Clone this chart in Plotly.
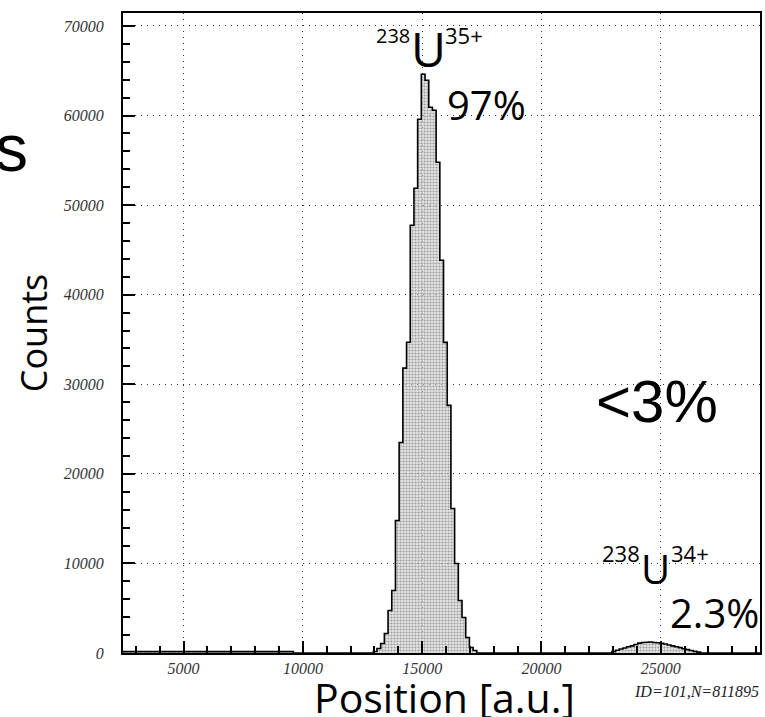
import plotly.graph_objects as go

# ---------------- data ----------------
bin_width = 155
# low-level tail on the left
tail_edges = [2460, 9600]
tail_counts = [150, 0]
# main peak 238U35+
main_start = 12950
main_counts = [170, 500, 1060, 2180, 4750, 6980, 14800, 23500, 31800, 34700,
               47750, 51880, 59590, 64620, 63950, 60930, 60600, 54790, 43840,
               34680, 27650, 16140, 10000, 5860, 3970, 1730, 610, 280]
# second peak 238U34+
sec_start = 22950
sec_counts = [150, 300, 450, 550, 700, 800, 950, 1100, 1180, 1200, 1220, 1180,
              1150, 1080, 1000, 900, 800, 700, 600, 480, 380, 280, 180, 100]

x_range = [2460, 29160]
y_range = [0, 71450]
x_ticks = [5000, 10000, 15000, 20000, 25000]
x_labels = ["5000", "10000", "15000", "20000", "25000"]
y_ticks = [0, 10000, 20000, 30000, 40000, 50000, 60000, 70000]
y_labels = ["0", "10000", "20000", "30000", "40000", "50000", "60000", "70000"]

# ---------------- build step histogram ----------------
xs, ys = [], []
for e, c in zip(tail_edges, tail_counts):
    xs.append(e); ys.append(c)
for k, c in enumerate(main_counts):
    xs.append(main_start + k * bin_width); ys.append(c)
xs.append(main_start + len(main_counts) * bin_width); ys.append(0)
for k, c in enumerate(sec_counts):
    xs.append(sec_start + k * bin_width); ys.append(c)
xs.append(sec_start + len(sec_counts) * bin_width); ys.append(0)
xs.append(x_range[1]); ys.append(0)

W, H = 765, 717
L, R, T, B = 123, 3, 13, 64
PW, PH = W - L - R, H - T - B


def px(x):
    return (x - L) / PW


def py(y):
    return (H - B - y) / PH


fig = go.Figure()
fig.add_trace(go.Scatter(
    x=xs, y=ys, mode="lines", line=dict(shape="hv", color="black", width=1.6),
    fill="tozeroy", fillcolor="rgba(190,190,190,0.75)",
    fillpattern=dict(shape=".", fgcolor="#555555", bgcolor="rgba(210,210,210,0.6)",
                     size=3, solidity=0.4),
    hoverinfo="skip", showlegend=False))

tickfont = dict(family="Liberation Serif", size=16, color="#333", style="italic")
grid_dash = "1px,5px"

fig.update_xaxes(range=x_range, tickvals=x_ticks, ticktext=x_labels, ticks="inside",
                 ticklen=12, tickwidth=1.5, tickcolor="black", showline=True,
                 linecolor="black", linewidth=2, mirror=True, showgrid=True,
                 gridcolor="#333", griddash=grid_dash, gridwidth=1.3, zeroline=False,
                 tickfont=tickfont, ticklabelstandoff=0,
                 minor=dict(dtick=1000, tick0=0, ticks="inside", ticklen=7,
                            tickcolor="black", tickwidth=1.5, showgrid=False))
fig.update_yaxes(range=y_range, tickvals=y_ticks, ticktext=y_labels, ticks="inside",
                 ticklen=12, tickwidth=1.5, tickcolor="black", showline=True,
                 linecolor="black", linewidth=2, mirror=True, showgrid=True,
                 gridcolor="#333", griddash=grid_dash, gridwidth=1.3, zeroline=False,
                 tickfont=tickfont, ticklabelstandoff=14,
                 minor=dict(dtick=2000, tick0=0, ticks="inside", ticklen=7,
                            tickcolor="black", tickwidth=1.5, showgrid=False))

big = "Open Sans"
ann = []


def add(text, x, y, size, family=big, xanchor="center", yanchor="middle", angle=0,
        style="normal", color="black"):
    ann.append(dict(text=text, x=px(x), y=py(y), xref="paper", yref="paper",
                    showarrow=False, xanchor=xanchor, yanchor=yanchor, textangle=angle,
                    font=dict(family=family, size=size, color=color, style=style)))


add("Counts", 33, 333, 36, angle=-90)
add("Position [a.u.]", 446, 697, 41)
add("s", 30, 148, 66, family="Liberation Sans", xanchor="right")
add("<3%", 659, 401, 60, family="Liberation Sans")
add("97%", 488, 104, 40)
add("238", 413, 35, 20, xanchor="right")
add("U", 429, 48, 48)
add("35+", 444, 35, 22, xanchor="left")
add("238", 644, 553, 22, xanchor="right")
add("U", 657, 568, 40)
add("34+", 671, 553, 22, xanchor="left")
add("2.3%", 716, 612, 40)
add("ID=101,N=811895", 763, 691, 16, family="Liberation Serif", xanchor="right",
    style="italic", color="#222")

fig.update_layout(width=W, height=H, margin=dict(l=L, r=R, t=T, b=B),
                  paper_bgcolor="white", plot_bgcolor="white", annotations=ann)

fig.write_html("out.html", config={"displayModeBar": False},
               post_script="document.body.style.margin='0';"
               "document.body.style.overflow='hidden';")
